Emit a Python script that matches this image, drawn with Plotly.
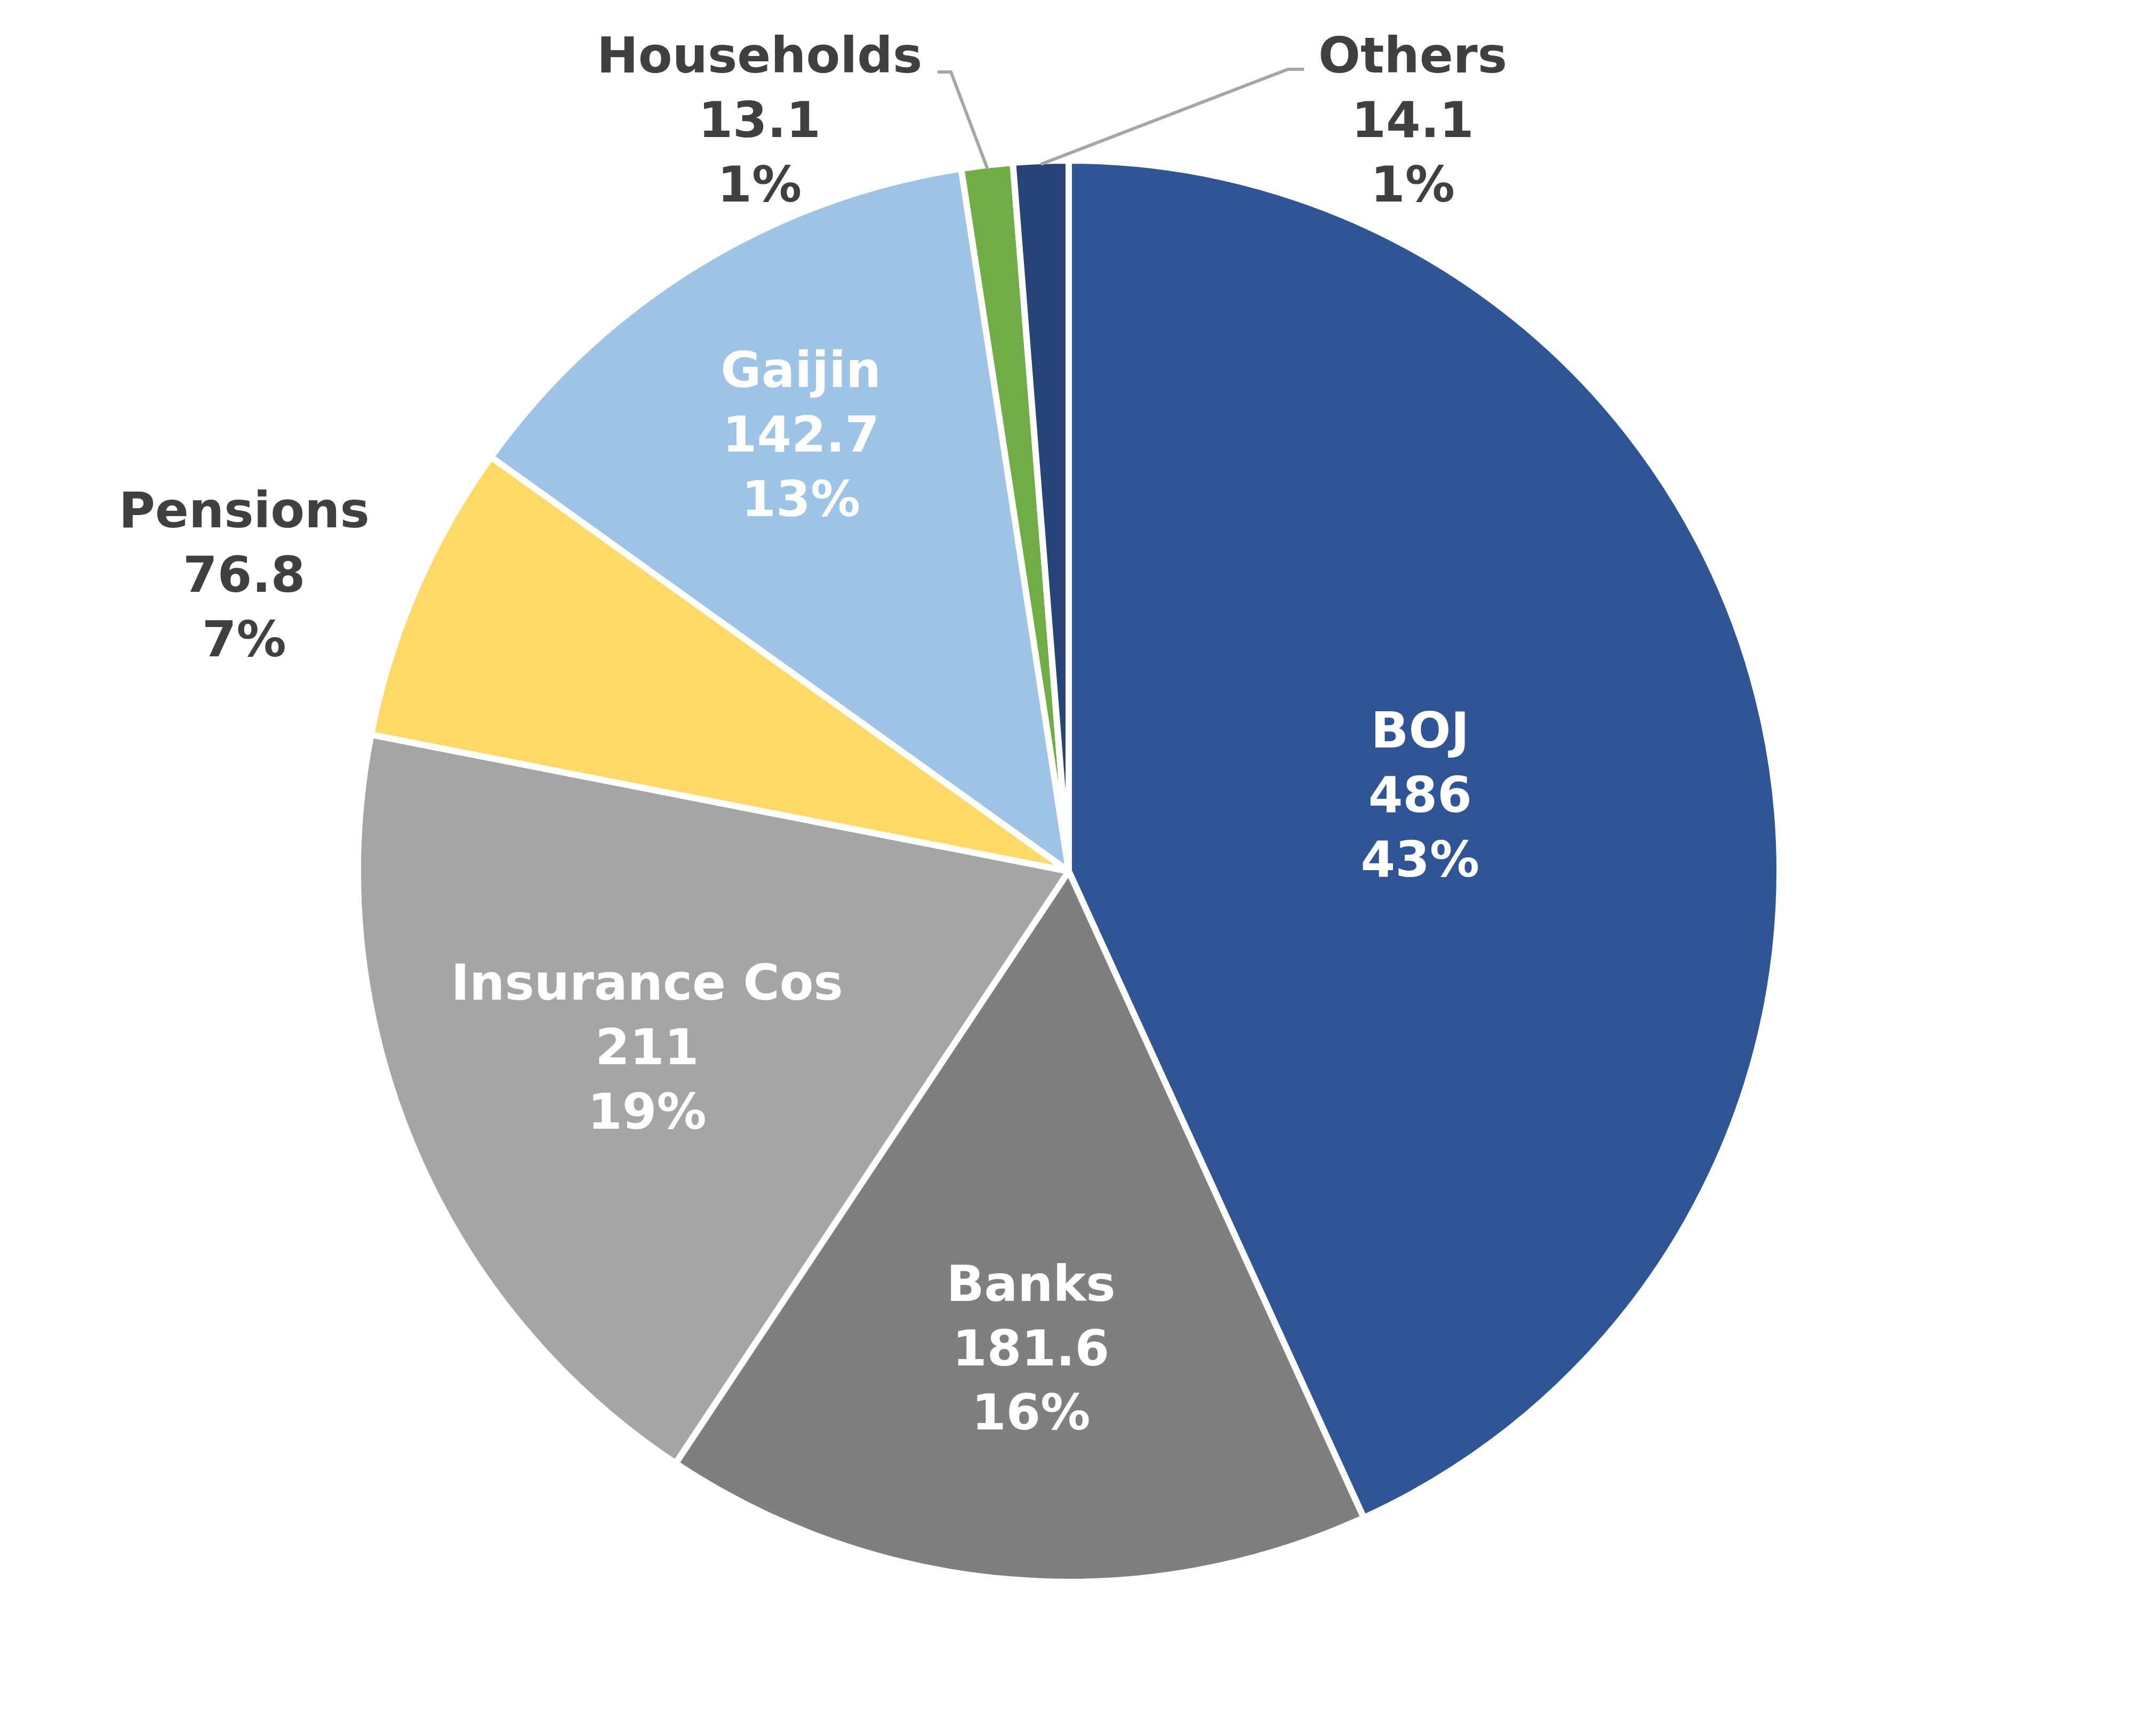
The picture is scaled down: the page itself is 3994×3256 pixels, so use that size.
import math
import plotly.graph_objects as go

# ---- data ----
labels = ["BOJ", "Banks", "Insurance Cos", "Pensions", "Gaijin", "Households", "Others"]
values = [486, 181.6, 211, 76.8, 142.7, 13.1, 14.1]

# ---- style ----
colors = ["#2F5597", "#7F7F7F", "#A5A5A5", "#FFD966", "#9DC3E6", "#70AD47", "#264478"]
text_pos = ["inside", "inside", "inside", "outside", "inside", "none", "none"]
text_cols = ["#FFFFFF", "#FFFFFF", "#FFFFFF", "#404040", "#FFFFFF", "#404040", "#404040"]
FONT = "DejaVu Sans"
FSIZE = 93
DARK = "#404040"

W, H = 3994, 3256
CX, CY, R = 1996, 1626, 1333  # pie centre / radius in pixels
BORDER = 12

dom_x = [(CX - R) / W, (CX + R) / W]
dom_y = [(H - CY - R) / H, (H - CY + R) / H]

fig = go.Figure(go.Pie(
    labels=labels,
    values=values,
    sort=False,
    direction="clockwise",
    rotation=0,
    domain=dict(x=dom_x, y=dom_y),
    marker=dict(colors=colors, line=dict(color="#FFFFFF", width=BORDER)),
    textposition=text_pos,
    texttemplate="%{label}<br>%{value}<br>%{percent:.0%}",
    insidetextorientation="horizontal",
    textfont=dict(family=FONT, size=FSIZE, color=text_cols, weight=700),
    showlegend=False,
    hoverinfo="label+value+percent",
))

# callout labels for the two thin slices (label box centre, elbow, line end) in pixels
callouts = {
    "Households": dict(center=(1416, 217), elbow=(1775, 127), end=(1750, 127)),
    "Others": dict(center=(2641, 217), elbow=(2407, 122), end=(2437, 122)),
}

total = sum(values)
cum = 0.0
annotations = []
shapes = []
r_rim = R - BORDER / 2
for lab, val in zip(labels, values):
    frac = val / total
    mid = (cum + frac / 2) * 2 * math.pi
    cum += frac
    if lab not in callouts:
        continue
    c = callouts[lab]
    px = CX + r_rim * math.sin(mid)
    py = CY - r_rim * math.cos(mid)
    pts = [(px, py), c["elbow"], c["end"]]
    path = "M " + " L ".join(f"{x / W:.5f},{1 - y / H:.5f}" for x, y in pts)
    shapes.append(dict(type="path", xref="paper", yref="paper", path=path,
                       line=dict(color="#A6A6A6", width=6)))
    annotations.append(dict(
        xref="paper", yref="paper",
        x=c["center"][0] / W, y=1 - c["center"][1] / H,
        xanchor="center", yanchor="middle",
        text=f"{lab}<br>{val:g}<br>{round(frac * 100):d}%",
        showarrow=False,
        font=dict(family=FONT, size=FSIZE, color=DARK, weight=700),
    ))

fig.update_layout(
    width=W, height=H,
    margin=dict(l=0, r=0, t=0, b=0),
    paper_bgcolor="#FFFFFF",
    plot_bgcolor="#FFFFFF",
    annotations=annotations,
    shapes=shapes,
)

fig.write_html("out.html")
